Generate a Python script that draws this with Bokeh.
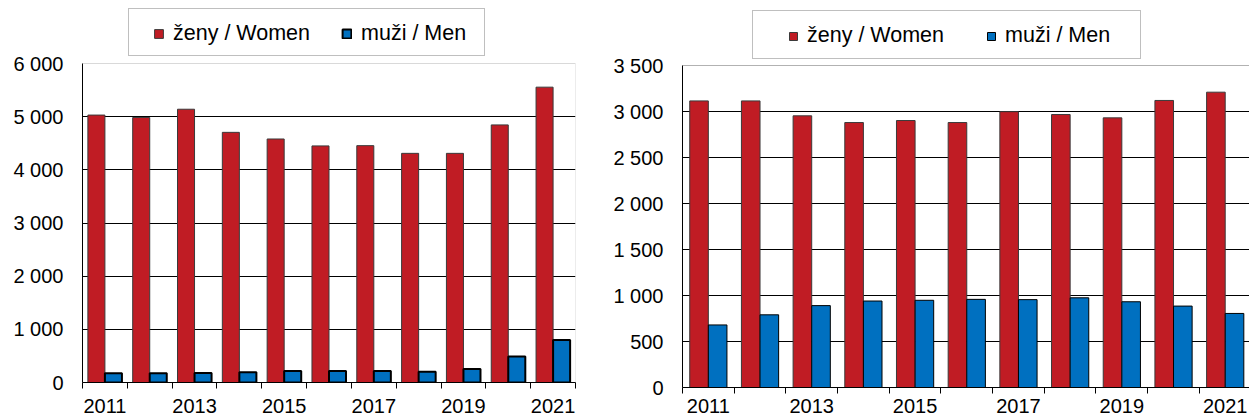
from bokeh.plotting import figure
from bokeh.models import (ColumnDataSource, FixedTicker, Legend, LegendItem, Range1d,
                          BoxAnnotation)
from bokeh.layouts import row
from bokeh.transform import dodge
from bokeh.embed import file_html
from bokeh.resources import INLINE

# ---------------- data ----------------
years = ["2011", "2012", "2013", "2014", "2015", "2016", "2017", "2018", "2019", "2020", "2021"]
left_women = [5030, 4985, 5140, 4705, 4580, 4450, 4455, 4310, 4310, 4845, 5555]
left_men = [175, 175, 180, 195, 215, 215, 215, 200, 255, 490, 800]
right_women = [3115, 3115, 2953, 2880, 2902, 2880, 2998, 2967, 2931, 3120, 3210]
right_men = [680, 790, 890, 940, 948, 958, 955, 975, 932, 885, 805]
left_yticks = [0, 1000, 2000, 3000, 4000, 5000, 6000]
right_yticks = [0, 500, 1000, 1500, 2000, 2500, 3000, 3500]
label_women = "ženy / Women"
label_men = "muži / Men"

RED = "#C01C24"
BLUE = "#0070C0"
FONT = "Liberation Sans"

idx = list(range(len(years)))
label_idx = idx[::2]


def fmt(v):
    return f"{v:,}".replace(",", " ")


def make_fig(fw, fh, bl, br, bb, top_gap, yticks, x_end, outline, women, men,
             bar_w, men_line_w, standoff_x):
    ymax = yticks[-1]
    y_end = ymax * fh / (fh - top_gap)
    src = ColumnDataSource(dict(x=idx, women=women, men=men))
    p = figure(width=bl + fw + br, height=fh + bb, frame_width=fw, frame_height=fh,
               x_range=Range1d(-0.5, x_end), y_range=Range1d(0, y_end),
               output_backend="svg", toolbar_location=None,
               min_border_left=bl, min_border_right=br,
               min_border_top=0, min_border_bottom=bb)
    p.outline_line_color = None
    p.background_fill_color = "white"
    p.border_fill_color = "white"

    p.ygrid.ticker = FixedTicker(ticks=yticks[1:-1])
    p.ygrid.grid_line_color = "black"
    p.ygrid.grid_line_width = 1
    p.xgrid.visible = False

    # plot-area border (top / right), drawn at the range limits
    p.add_layout(BoxAnnotation(left=-0.5, right=len(years) - 0.5, bottom=0, top=ymax,
                               fill_alpha=0, line_color=outline, line_width=1,
                               level="underlay"))

    rw = p.vbar(x=dodge("x", -bar_w / 2, range=p.x_range), top="women", width=bar_w,
                source=src, fill_color=RED, line_color="#3a3a3a", line_width=1)
    rm = p.vbar(x=dodge("x", bar_w / 2, range=p.x_range), top="men", width=bar_w,
                source=src, fill_color=BLUE, line_color="black", line_width=men_line_w)

    # x axis
    xa = p.xaxis[0]
    xa.ticker = FixedTicker(ticks=label_idx,
                            minor_ticks=[i - 0.5 for i in idx] + [idx[-1] + 0.5])
    xa.major_label_overrides = {i: years[i] for i in label_idx}
    xa.major_tick_line_color = None
    xa.major_tick_out = 0
    xa.major_tick_in = 0
    xa.minor_tick_line_color = "black"
    xa.minor_tick_out = 6
    xa.minor_tick_in = 0
    xa.axis_line_color = "black"
    xa.major_label_standoff = standoff_x
    xa.major_label_text_font = FONT
    xa.major_label_text_font_size = "20px"
    xa.major_label_text_color = "black"

    # y axis
    ya = p.yaxis[0]
    ya.ticker = FixedTicker(ticks=yticks)
    ya.bounds = (0, ymax)
    ya.major_label_overrides = {t: fmt(t) for t in yticks}
    ya.major_tick_line_color = None
    ya.major_tick_out = 0
    ya.major_tick_in = 0
    ya.minor_tick_line_color = None
    ya.axis_line_color = "black"
    ya.major_label_standoff = 19
    ya.major_label_text_font = FONT
    ya.major_label_text_font_size = "20px"
    ya.major_label_text_color = "black"
    return p, rw, rm


def add_legends(p, rw, rm, box_loc, box_w, box_h, item_loc, spacing, gsize):
    dummy = p.scatter(x=[], y=[], size=1, fill_alpha=0, line_alpha=0)
    box = Legend(items=[LegendItem(label=" ", renderers=[dummy])], location=box_loc,
                 padding=0, margin=0, glyph_width=0, glyph_height=box_h,
                 label_width=box_w, label_height=box_h, label_standoff=0,
                 label_text_font_size="4px",
                 border_line_color="#808080", border_line_width=1,
                 background_fill_color="white", background_fill_alpha=1)
    p.add_layout(box)
    leg = Legend(items=[LegendItem(label=label_women, renderers=[rw]),
                        LegendItem(label=label_men, renderers=[rm])],
                 location=item_loc, orientation="horizontal", padding=0, margin=0,
                 spacing=spacing, glyph_width=gsize, glyph_height=gsize,
                 label_standoff=9, label_text_font=FONT,
                 label_text_font_size="21.5px", label_text_color="black",
                 border_line_color=None, background_fill_alpha=0)
    p.add_layout(leg)


# left chart: plot area x 82..575, value 0 at y=382, 6000 at y=63
p1, rw1, rm1 = make_fig(493, 382, 82, 25, 37, 63, left_yticks, 10.5, "#808080",
                        left_women, left_men, 0.38, 2, 10)
add_legends(p1, rw1, rm1, (46, 326), 355, 46, (71, 336), 31, 11)

# right chart: plot area x 682..1249 (cut at the edge), 0 at y=387, 3500 at y=65
p2, rw2, rm2 = make_fig(567, 387, 82, 0, 32, 65, right_yticks, 10.47, "black",
                        right_women, right_men, 0.36, 1, 5)
add_legends(p2, rw2, rm2, (70, 328), 387, 47, (106, 339), 42, 10)

layout = row(p1, p2)
open("out.html", "w").write(file_html(layout, INLINE))
